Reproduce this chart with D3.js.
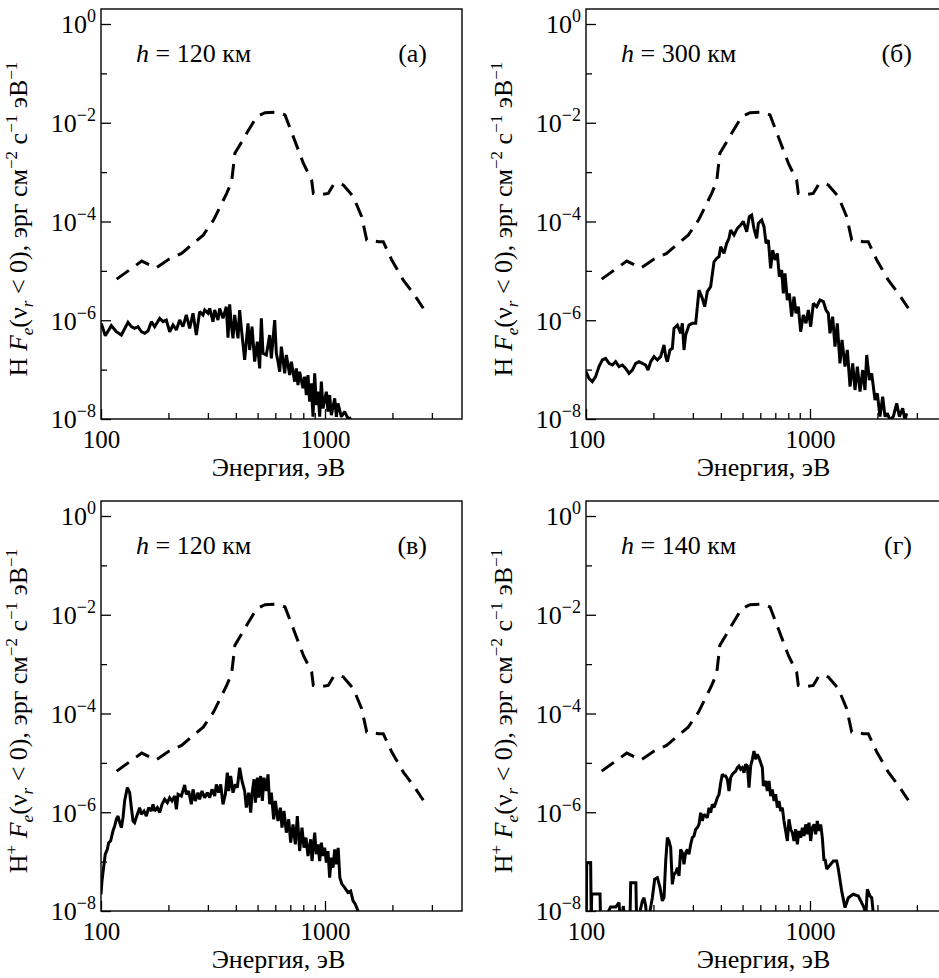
<!DOCTYPE html>
<html><head><meta charset="utf-8">
<script src="https://cdn.jsdelivr.net/npm/d3@7"></script>
<style>
body{margin:0;background:#fff}
svg{display:block}
</style></head>
<body><svg id="chart" width="939" height="978"></svg>
<script>
// ---------- data ----------
const incidentEnergy = [117.5,152,176,200,229,258,286,318,364,383,396,447,496,540,609,663,722,801,872,887,950,1034,1089,1150,1207,1338,1458,1536,1730,1820,1986,2237,2479,2747];
const incidentFlux   = [6.8e-6,1.58e-5,1.15e-5,1.7e-5,2.26e-5,3.6e-5,5.3e-5,1.07e-4,3.7e-4,6.4e-4,2.4e-3,6.1e-3,1.33e-2,1.6e-2,1.65e-2,1.44e-2,5.2e-3,1.5e-3,6.9e-4,3.7e-4,3.5e-4,3.7e-4,5.5e-4,6.0e-4,5.5e-4,3.2e-4,1.25e-4,4.2e-5,3.9e-5,3.9e-5,1.66e-5,6.5e-6,3.5e-6,1.75e-6];

const energyA = [100.3,104.5,111.2,117.1,123.3,132,136.6,141.3,146.3,151.4,156.6,162.1,167.8,173.6,182.8,189.2,195.7,202.6,209.7,217,224.5,232.3,240.4,248.8,257.5,266.4,275.7,285.4,290.3,300.4,305.6,316.2,321.7,332.9,338.7,350.4,362.6,369,375.3,381.8,388.4,395.1,408.9,415.9,423.2,437.9,453.1,461,472.2,485.3,498.8,510.9,519.7,528.7,547.1,566.2,576,596.2,606.5,617,627.7,638.6,660.7,672.1,695.6,707.6,732,744.7,757.6,770.7,797.6,811.4,825.4,839.7,854.2,869,884,899.4,914.9,930.7,946.7,963,979.7,1014,1031,1049,1067,1105,1124,1143,1183,1224,1267,1311];
const fluxA   = [8.65e-7,4.86e-7,7.76e-7,5.86e-7,5.02e-7,9.06e-7,7.41e-7,6.86e-7,7.41e-7,5.86e-7,5.43e-7,6.05e-7,9.35e-7,7.41e-7,1.09e-6,9.35e-7,1.01e-6,5.86e-7,8.0e-7,6.34e-7,1.01e-6,7.41e-7,1.28e-6,6.86e-7,1.38e-6,5.02e-7,1.49e-6,1.28e-6,1.61e-6,1.38e-6,1.74e-6,9.35e-7,1.61e-6,1.01e-6,1.74e-6,1.09e-6,1.88e-6,4.43e-7,2.1e-6,8.0e-7,4.3e-7,1.28e-6,4.3e-7,1.61e-6,6.86e-7,1.57e-7,8.65e-7,2.5e-7,7.41e-7,1.45e-7,3.68e-7,1.06e-7,1.09e-6,2.14e-7,1.98e-7,5.02e-7,1.69e-7,1.01e-6,2.14e-7,1.45e-7,9.08e-8,2.92e-7,8.4e-8,1.98e-7,7.78e-8,1.45e-7,5.7e-8,1.06e-7,4.88e-8,9.08e-8,4.18e-8,7.2e-8,3.06e-8,7.78e-8,2.24e-8,5.27e-8,1.11e-8,8.4e-8,1.92e-8,3.57e-8,1.11e-8,5.7e-8,1.64e-8,3.57e-8,1.41e-8,3.06e-8,1.2e-8,2.62e-8,1.11e-8,2.07e-8,1.11e-8,1.41e-8,1.02e-8,1.05e-8];

const energyB = [100,103.1,106.7,110.4,114.3,118.3,122.4,126.7,131.1,135.6,140.4,145.3,150.4,155.6,161,166.7,172.4,178.5,184.7,189.2,194.5,201.2,208.3,215.4,223,226.9,230.8,237.1,242.9,247.1,255.8,264.6,269.2,273.8,278.6,288.3,298.4,308.8,319.5,330.6,338.7,348.1,360.1,372.8,383.1,392.5,399.3,413.2,424.6,434.9,442.4,457.8,473.8,490.3,504,521.7,536,549,562,578,588,608.6,623.4,636.4,651.6,667.4,681.3,697.9,714.8,729.6,747.3,760.3,773.4,792.2,808.6,828.3,848.4,866,887,908.5,933.7,959.6,983,1007,1035,1071,1108,1147,1179,1207,1228,1262,1293,1324,1361,1390,1433,1468,1509,1551,1588,1627,1672,1719,1760,1791,1841,1885,1951,1998,2053,2111,2162,2215,2276,2355,2438,2506,2593,2656,2701];
const fluxB   = [9.1e-8,6.67e-8,5.7e-8,7.2e-8,1.15e-7,1.57e-7,1.69e-7,1.34e-7,1.24e-7,1.45e-7,1.15e-7,1.24e-7,1.06e-7,8.4e-8,9.8e-8,1.34e-7,1.45e-7,1.34e-7,1.24e-7,9.8e-8,1.45e-7,1.83e-7,1.57e-7,1.83e-7,3.15e-7,1.83e-7,1.45e-7,2.5e-7,2.7e-7,6.86e-7,8.0e-7,5.43e-7,8.65e-7,2.5e-7,5.02e-7,8.0e-7,8.65e-7,8.65e-7,4.09e-6,2.78e-6,1.88e-6,3.79e-6,4.79e-6,1.53e-5,1.79e-5,1.94e-5,3.09e-5,2.26e-5,3.61e-5,4.56e-5,6.72e-5,5.32e-5,7.26e-5,8.49e-5,1.0e-4,6.22e-5,1.25e-4,1.35e-4,7.26e-5,4.56e-5,9.17e-5,1.07e-4,7.85e-5,3.61e-5,4.22e-5,1.12e-5,2.64e-5,1.66e-5,2.26e-5,7.62e-6,1.04e-5,3.51e-6,8.9e-6,2.57e-6,3.51e-6,1.18e-6,3.0e-6,1.38e-6,1.88e-6,5.87e-7,1.28e-6,8.65e-7,1.61e-6,7.41e-7,2.2e-6,1.88e-6,2.57e-6,2.38e-6,1.61e-6,1.38e-6,5.43e-7,1.18e-6,2.92e-7,8.65e-7,1.34e-7,3.98e-7,1.15e-7,2.5e-7,4.52e-8,1.34e-7,3.87e-8,1.15e-7,3.58e-8,9.8e-8,3.87e-8,1.98e-7,6.17e-8,8.4e-8,2.43e-8,3.31e-8,1.12e-8,2.83e-8,1.12e-8,1.3e-8,9.5e-9,1.12e-8,2.07e-8,1.12e-8,1.64e-8,9.5e-9,1.3e-8];

const energyC = [100,101,103.1,104.5,106.7,108.2,110.4,113.1,115.1,117.1,119.1,121.2,123.3,125.4,127.5,131.1,134.3,136.6,139,141.3,145.3,148.8,151.4,155.6,159.4,163.2,167.8,170.7,173.6,178.5,182.8,187.3,192.4,197.8,202.6,207.5,213.3,217,220.8,228.4,236.3,240.4,246.2,253.1,257.5,263.7,271,275.7,282.4,290.3,298.4,305.6,313,321.7,327.3,335.2,342.2,350.4,359,366.4,371.5,379.3,388.4,397.8,406.1,415.9,426.1,437.9,445.5,456.3,465.8,472.2,482,488.7,498.8,505.7,516.2,525.1,534.2,547.1,556.6,566.2,576,590,600.3,617,632,642.7,656.1,672.1,688.4,702.6,719.7,737.2,752.4,770.7,789.4,805.8,822.5,839.7,863,875,899.4,914.9,930.7,946.7,963,979.7,996.6,1014,1031,1049,1067,1086,1105,1124,1145,1165,1190,1224,1267,1302,1334,1366,1404,1420];
const fluxC   = [2.18e-8,4.06e-8,8.81e-8,1.41e-7,1.77e-7,2.42e-7,2.62e-7,4.17e-7,5.27e-7,7.19e-7,8.39e-7,6.15e-7,4.88e-7,7.77e-7,1.69e-6,3.15e-6,2.49e-6,1.24e-6,6.65e-7,6.15e-7,9.08e-7,1.24e-6,9.08e-7,1.06e-6,8.39e-7,1.24e-6,1.06e-6,1.45e-6,1.06e-6,1.24e-6,9.8e-7,1.45e-6,1.83e-6,1.56e-6,1.97e-6,1.69e-6,2.13e-6,1.15e-6,2.31e-6,2.13e-6,3.56e-6,2.31e-6,2.69e-6,1.45e-6,2.91e-6,1.69e-6,2.49e-6,1.83e-6,2.69e-6,1.97e-6,2.49e-6,1.97e-6,2.91e-6,2.13e-6,3.67e-6,2.49e-6,3.67e-6,1.45e-6,2.31e-6,6.34e-6,2.69e-6,5.42e-6,2.49e-6,3.67e-6,3.15e-6,8.0e-6,4.3e-6,2.69e-6,1.24e-6,2.49e-6,9.8e-7,2.31e-6,4.65e-6,1.56e-6,5.02e-6,1.97e-6,5.42e-6,1.69e-6,5.02e-6,2.69e-6,5.87e-6,1.45e-6,2.49e-6,7.19e-7,1.69e-6,6.65e-7,1.24e-6,4.88e-7,1.06e-6,3.86e-7,7.19e-7,2.42e-7,5.69e-7,2.24e-7,8.39e-7,1.64e-7,4.88e-7,1.92e-7,3.06e-7,1.3e-7,2.83e-7,1.03e-7,3.86e-7,1.41e-7,2.24e-7,1.03e-7,2.42e-7,1.3e-7,1.92e-7,9.53e-8,1.64e-7,4.73e-8,1.2e-7,7.55e-8,1.77e-7,8.81e-8,1.9e-7,4.7e-8,3.5e-8,2.97e-8,2.36e-8,2.54e-8,1.6e-8,1.37e-8,1.0e-8,8e-9];

const energyD = [100.3,100.7,104.9,105.6,106,115.5,116.3,128.8,135.6,140.4,142.8,146.8,150,157,158.3,167,168.4,178.5,181.6,184.7,187.9,197.8,202.6,208.3,214,219.2,223,226.9,230.8,234.8,238.8,242.9,247.1,251.4,255.8,260.2,264.6,269.2,273.8,278.6,283.4,288.3,293.3,298.4,303.5,308.8,314.1,319.5,325,330.6,336.4,342.2,348.1,354.1,360.1,366.4,372.8,379.3,385.8,392.5,399.3,406.1,413.2,420.3,427.6,434.9,442.4,450.1,457.8,465.8,473.8,482,490.3,498.8,507.5,516.2,525.1,534.2,543.4,552.9,562.3,572,582,592,602.4,612.8,619.1,634.1,645,656.1,667.4,678.9,690.7,702.6,714.8,727.1,739.6,752.4,765.4,778.6,792.2,805.8,819.7,834,848.4,863,878,893,908.5,924.3,940.1,956.5,972.9,989.7,1007,1024,1042,1060,1078,1097,1116,1135,1155,1167,1188,1271,1316,1338,1385,1433,1483,1561,1643,1730,1778,1803,1853,1886,1917];
const fluxD   = [5e-9,9.53e-8,9.53e-8,5e-9,2.2e-8,2.2e-8,5e-9,1.2e-8,1.2e-8,1.48e-8,5e-9,1.26e-8,5e-9,5e-9,3.75e-8,3.75e-8,5e-9,1.6e-8,1.86e-8,1.26e-8,5e-9,1.86e-8,4.39e-8,4.73e-8,2.97e-8,1.6e-8,1.86e-8,1.03e-7,3.06e-7,2.62e-7,1.92e-7,3.47e-8,5.53e-8,5.98e-8,7.55e-8,5.12e-8,1.77e-7,1.52e-7,8.81e-8,1.52e-7,1.77e-7,1.41e-7,2.24e-7,3.06e-7,3.3e-7,4.51e-7,4.88e-7,5.69e-7,9.8e-7,6.65e-7,9.08e-7,8.39e-7,7.77e-7,1.24e-6,9.8e-7,1.45e-6,1.24e-6,1.56e-6,1.97e-6,2.31e-6,3.97e-6,5.87e-6,5.42e-6,5.42e-6,4.65e-6,2.69e-6,5.02e-6,5.87e-6,6.34e-6,6.85e-6,8.0e-6,8.65e-6,7.4e-6,8.0e-6,6.34e-6,9.34e-6,8.65e-6,3.15e-6,8.65e-6,1.18e-5,1.74e-5,1.18e-5,1.49e-5,1.27e-5,1.01e-5,8.0e-6,3.4e-6,4.3e-6,2.69e-6,4.3e-6,2.13e-6,2.91e-6,1.69e-6,2.31e-6,1.24e-6,1.69e-6,1.06e-6,1.24e-6,6.65e-7,4.17e-7,2.62e-7,7.19e-7,4.51e-7,3.86e-7,2.62e-7,4.51e-7,2.24e-7,4.17e-7,3.06e-7,4.88e-7,3.3e-7,5.69e-7,3.57e-7,6.15e-7,2.62e-7,4.88e-7,5.69e-7,3.57e-7,6.65e-7,4.17e-7,5.69e-7,3.06e-7,1.03e-7,1.13e-7,7.1e-8,1.03e-7,1.03e-7,7.1e-8,2.54e-8,1.17e-8,1.86e-8,2.18e-8,2.01e-8,1.26e-8,9e-9,2.75e-8,2.01e-8,1.86e-8,9e-9];

const panelLetters = ["(а)","(б)","(в)","(г)"];
const altitudes = ["120","300","120","140"];
const species = ["H","H","H","H"];
const speciesCharge = ["","","+","+"];
const yMajorTicks = [1,1e-2,1e-4,1e-6,1e-8];
const yMajorLabels = ["0","−2","−4","−6","−8"];
const yMinorTicks = [1e-1,1e-3,1e-5,1e-7];
const xMajorTicks = [100,1000];
const xMajorLabels = ["100","1000"];
const xMinorTicks = [200,300,400,500,600,700,800,900,2000,3000];

const solidE = [energyA, energyB, energyC, energyD];
const solidF = [fluxA, fluxB, fluxC, fluxD];

// ---------- layout ----------
const FONT = "'Liberation Serif','Times New Roman','DejaVu Serif',serif";
const svg = d3.select("#chart").style("font-family", FONT);
const PW = 361, PH = 410;
const origins = [[101,9],[586,9],[101,501],[586,501]];

svg.append("defs").selectAll("clipPath").data(origins).join("clipPath")
  .attr("id",(d,i)=>"clip"+i)
  .append("rect").attr("x",d=>d[0]).attr("y",d=>d[1]).attr("width",PW).attr("height",PH);

function txt(sel){ return sel.style("font-family", FONT).style("white-space","pre").attr("fill","#000"); }

origins.forEach(([L,T],i)=>{
  const x = d3.scaleLog().domain([100, Math.pow(10, 2 + PW/224)]).range([L, L+PW]);
  const y = d3.scaleLog().domain([1e-8, Math.pow(10, 15/49.375)]).range([T+PH, T]);
  const g = svg.append("g");

  g.append("rect").attr("x",L).attr("y",T).attr("width",PW).attr("height",PH)
    .attr("fill","none").attr("stroke","#000").attr("stroke-width",1.4);

  const yAx = g.append("g").attr("transform",`translate(${L},0)`)
    .call(d3.axisLeft(y).tickValues(yMajorTicks).tickSizeInner(-10).tickSizeOuter(0).tickPadding(5));
  yAx.attr("font-family", null);
  yAx.select(".domain").remove();
  yAx.selectAll(".tick line").attr("stroke-width",1.3);
  yAx.selectAll(".tick text").each(function(d,k){
    const t = txt(d3.select(this).text(null)).attr("font-size",26).attr("dy","0.34em");
    t.append("tspan").text("10");
    t.append("tspan").attr("font-size",18).attr("dy",-11).text(yMajorLabels[k]);
  });
  const yMin = g.append("g").attr("transform",`translate(${L},0)`)
    .call(d3.axisLeft(y).tickValues(yMinorTicks).tickSizeInner(-6).tickSizeOuter(0).tickFormat(""));
  yMin.select(".domain").remove();
  yMin.selectAll(".tick line").attr("stroke-width",1.3);

  const xAx = g.append("g").attr("transform",`translate(0,${T+PH})`)
    .call(d3.axisBottom(x).tickValues(xMajorTicks).tickSizeInner(-10).tickSizeOuter(0).tickPadding(11)
      .tickFormat((d,k)=>xMajorLabels[k]));
  xAx.attr("font-family", null);
  xAx.select(".domain").remove();
  xAx.selectAll(".tick line").attr("stroke-width",1.3);
  txt(xAx.selectAll(".tick text")).attr("font-size",25);
  const xMin = g.append("g").attr("transform",`translate(0,${T+PH})`)
    .call(d3.axisBottom(x).tickValues(xMinorTicks).tickSizeInner(-6).tickSizeOuter(0).tickFormat(""));
  xMin.select(".domain").remove();
  xMin.selectAll(".tick line").attr("stroke-width",1.3);

  const line = d3.line().x(d=>x(d[0])).y(d=>y(d[1]));
  const plot = g.append("g").attr("clip-path",`url(#clip${i})`);
  plot.append("path").datum(d3.zip(incidentEnergy, incidentFlux))
    .attr("d",line).attr("fill","none").attr("stroke","#000").attr("stroke-width",3)
    .attr("stroke-dasharray","15,9");
  plot.append("path").datum(d3.zip(solidE[i], solidF[i]))
    .attr("d",line).attr("fill","none").attr("stroke","#000").attr("stroke-width",3)
    .attr("stroke-linejoin","miter").attr("stroke-miterlimit",2);

  const ann = txt(g.append("text")).attr("x",L+35).attr("y",T+15+38).attr("font-size",26);
  ann.append("tspan").attr("font-style","italic").text("h");
  ann.append("tspan").text(" = " + altitudes[i] + " км");
  txt(g.append("text")).attr("x",L+PW-35).attr("y",T+15+38).attr("font-size",26)
    .attr("text-anchor","end").text(panelLetters[i]);

  txt(g.append("text")).attr("x",L+PW/2-3).attr("y",T+PH+57).attr("font-size",26)
    .attr("text-anchor","middle").text("Энергия, эВ");

  const yl = txt(g.append("text")).attr("transform",`translate(${L-74},${T+PH/2+5}) rotate(-90)`)
    .attr("font-size",26).attr("text-anchor","middle");
  yl.append("tspan").text(species[i]);
  if (speciesCharge[i]) yl.append("tspan").attr("font-size",17).attr("dy",-10).text(speciesCharge[i]);
  yl.append("tspan").attr("dy",speciesCharge[i]?10:0).text(" ");
  yl.append("tspan").attr("font-style","italic").text("F");
  yl.append("tspan").attr("font-style","italic").attr("font-size",17).attr("dy",6).text("e");
  yl.append("tspan").attr("dy",-6).text("(ν");
  yl.append("tspan").attr("font-style","italic").attr("font-size",17).attr("dy",6).text("r");
  yl.append("tspan").attr("dy",-6).text(" < 0), эрг см");
  yl.append("tspan").attr("font-size",17).attr("dy",-10).text("−2");
  yl.append("tspan").attr("dy",10).text(" с");
  yl.append("tspan").attr("font-size",17).attr("dy",-10).text("−1");
  yl.append("tspan").attr("dy",10).text(" эВ");
  yl.append("tspan").attr("font-size",17).attr("dy",-10).text("−1");
});
</script></body></html>
